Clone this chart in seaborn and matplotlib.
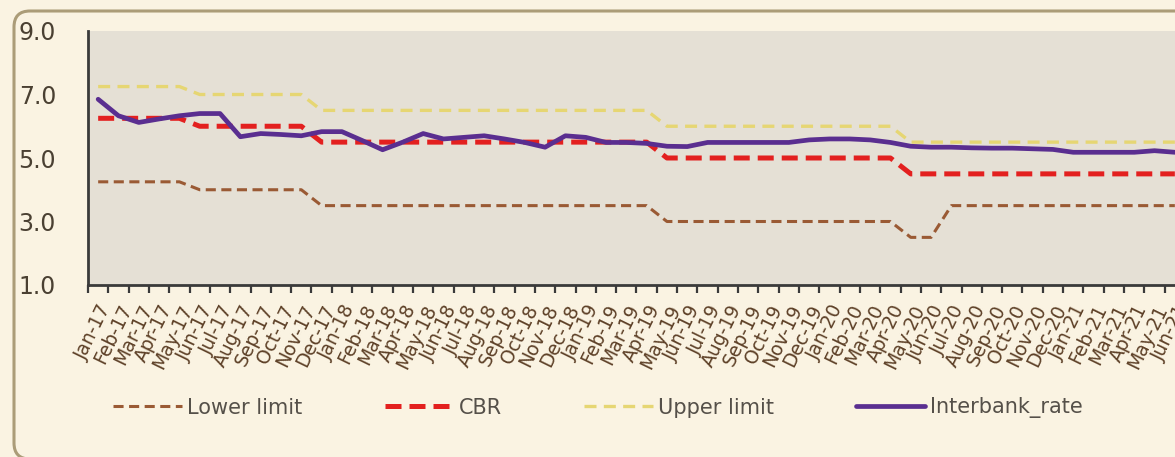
import numpy as np
import pandas as pd
import matplotlib
matplotlib.use("Agg")
import matplotlib.pyplot as plt
import seaborn as sns
from matplotlib.patches import FancyBboxPatch
from matplotlib.transforms import IdentityTransform
from matplotlib.lines import Line2D

# ---------------- data ----------------
months = list(pd.date_range("2017-01-01", "2021-06-01", freq="MS").strftime("%b-%y"))

lower_limit = [4.25, 4.25, 4.25, 4.25, 4.25,
               4.0, 4.0, 4.0, 4.0, 4.0, 4.0,
               3.5, 3.5, 3.5, 3.5, 3.5, 3.5, 3.5, 3.5, 3.5, 3.5, 3.5, 3.5, 3.5, 3.5, 3.5, 3.5, 3.5,
               3.0, 3.0, 3.0, 3.0, 3.0, 3.0, 3.0, 3.0, 3.0, 3.0, 3.0, 3.0,
               2.5, 2.5,
               3.5, 3.5, 3.5, 3.5, 3.5, 3.5, 3.5, 3.5, 3.5, 3.5, 3.5, 3.5]
cbr = [6.25, 6.25, 6.25, 6.25, 6.25,
       6.0, 6.0, 6.0, 6.0, 6.0, 6.0,
       5.5, 5.5, 5.5, 5.5, 5.5, 5.5, 5.5, 5.5, 5.5, 5.5, 5.5, 5.5, 5.5, 5.5, 5.5, 5.5, 5.5,
       5.0, 5.0, 5.0, 5.0, 5.0, 5.0, 5.0, 5.0, 5.0, 5.0, 5.0, 5.0,
       4.5, 4.5, 4.5, 4.5, 4.5, 4.5, 4.5, 4.5, 4.5, 4.5, 4.5, 4.5, 4.5, 4.5]
upper_limit = [7.25, 7.25, 7.25, 7.25, 7.25,
               7.0, 7.0, 7.0, 7.0, 7.0, 7.0,
               6.5, 6.5, 6.5, 6.5, 6.5, 6.5, 6.5, 6.5, 6.5, 6.5, 6.5, 6.5, 6.5, 6.5, 6.5, 6.5, 6.5,
               6.0, 6.0, 6.0, 6.0, 6.0, 6.0, 6.0, 6.0, 6.0, 6.0, 6.0, 6.0,
               5.5, 5.5, 5.5, 5.5, 5.5, 5.5, 5.5, 5.5, 5.5, 5.5, 5.5, 5.5, 5.5, 5.5]
interbank_rate = [6.85, 6.33, 6.12, 6.23, 6.33, 6.40, 6.40, 5.67, 5.77, 5.74,
                  5.70, 5.83, 5.83, 5.55, 5.26, 5.50, 5.77, 5.60, 5.65, 5.70,
                  5.60, 5.49, 5.34, 5.70, 5.65, 5.49, 5.49, 5.46, 5.37, 5.36,
                  5.49, 5.49, 5.49, 5.49, 5.49, 5.57, 5.60, 5.60, 5.57, 5.49,
                  5.37, 5.34, 5.34, 5.32, 5.31, 5.31, 5.29, 5.27, 5.18, 5.18,
                  5.18, 5.18, 5.23, 5.18]
y_ticks = [1.0, 3.0, 5.0, 7.0, 9.0]

# ---------------- figure ----------------
sns.set_theme(style="white")
plt.rcParams["font.family"] = ["DejaVu Sans"]

W, H, DPI = 1175, 457, 100
fig = plt.figure(figsize=(W / DPI, H / DPI), dpi=DPI, facecolor="#faf3e2")

# rounded frame
frame = FancyBboxPatch((14, -2), 1300, 448, boxstyle="round,pad=0,rounding_size=16",
                       transform=IdentityTransform(), fill=False,
                       edgecolor="#ab9c78", linewidth=2.2, zorder=0)
fig.patches.append(frame)

left_px, top_px, bottom_px, right_px = 88, 31, 285, 1185
ax = fig.add_axes([left_px / W, 1 - bottom_px / H,
                   (right_px - left_px) / W, (bottom_px - top_px) / H])
ax.set_facecolor("#e5e0d5")

x = np.arange(len(months))
df = pd.DataFrame({"x": x, "Lower limit": lower_limit, "CBR": cbr,
                   "Upper limit": upper_limit, "Interbank_rate": interbank_rate})

styles = {
    "Lower limit": dict(color="#9a5a34", linewidth=2.2, linestyle=(0, (3.3, 1.8)), zorder=3),
    "CBR": dict(color="#e3201f", linewidth=3.6, linestyle=(0, (3.2, 1.6)), zorder=4),
    "Upper limit": dict(color="#e6d673", linewidth=2.4, linestyle=(0, (3.6, 2.2)), zorder=3),
    "Interbank_rate": dict(color="#5a2e90", linewidth=3.4, linestyle="-", zorder=5),
}
for name, st in styles.items():
    sns.lineplot(data=df, x="x", y=name, ax=ax, legend=False, **st)

ax.set_xlim(-0.5, len(months) - 0.5)
ax.set_ylim(1.0, 9.0)
ax.set_xlabel("")
ax.set_ylabel("")

# y axis
ax.set_yticks(y_ticks)
ax.set_yticklabels([f"{v:.1f}" for v in y_ticks])
ax.tick_params(axis="y", length=0, pad=23, labelsize=17, labelcolor="#4a4032")

# x axis: labels at categories, tick marks between
ax.set_xticks(x)
ax.set_xticklabels(months, rotation=64, ha="right", rotation_mode="anchor")
ax.set_xticks(np.arange(-0.5, len(months), 1.0), minor=True)
ax.tick_params(axis="x", which="major", length=0, pad=12, labelsize=13.5, labelcolor="#5e4128")
ax.tick_params(axis="x", which="minor", length=6, width=1.6, color="#3a3a3a", bottom=True)

for side in ["top", "right"]:
    ax.spines[side].set_visible(False)
for side in ["left", "bottom"]:
    ax.spines[side].set_color("#3a3a3a")
    ax.spines[side].set_linewidth(2.0)

# legend
handles = [Line2D([0], [0], **{k: v for k, v in st.items() if k != "zorder"}) for st in styles.values()]
leg = fig.legend(handles, list(styles.keys()), loc="center", ncol=4,
                 bbox_to_anchor=(598 / W, 1 - 408 / H), frameon=False,
                 fontsize=15, handlelength=3.3, handletextpad=0.25, columnspacing=3.95)
for t in leg.get_texts():
    t.set_color("#555049")

fig.savefig("out.png", dpi=DPI, facecolor=fig.get_facecolor())
